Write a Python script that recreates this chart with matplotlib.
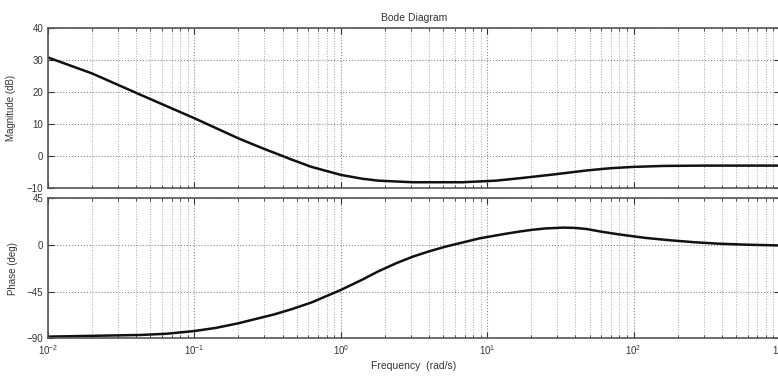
import numpy as np
import matplotlib.pyplot as plt
from matplotlib.ticker import LogLocator, FixedLocator

# values
mag_freq = [0.01, 0.02, 0.043, 0.1, 0.2, 0.3, 0.39, 0.46, 0.63, 1.0, 1.4,
            1.8, 3.1, 6.8, 11.5, 17, 28, 48, 70, 100, 160, 300, 1000]
mag_db = [30.8, 25.8, 19.1, 11.8, 5.5, 2.2, 0.2, -1.1, -3.4, -5.9, -7.1,
          -7.7, -8.2, -8.2, -7.7, -6.9, -5.8, -4.5, -3.8, -3.4, -3.1, -3.0,
          -3.0]

phase_freq = [0.01, 0.043, 0.065, 0.1, 0.14, 0.2, 0.35, 0.46, 0.63, 1.0,
              1.4, 1.8, 2.4, 3.1, 4.0, 5.2, 8.9, 13, 16.6, 20, 25, 33, 40,
              48, 60, 79, 120, 174, 260, 380, 600, 1000]
phase_deg = [-88.4, -86.8, -85.6, -83.0, -80.0, -75.5, -67.0, -62.0, -55.5,
             -43.4, -33.5, -25.5, -17.5, -11.3, -6.2, -1.6, 6.4, 10.5, 12.9,
             14.5, 15.9, 16.7, 16.4, 15.3, 12.8, 10.2, 6.8, 4.6, 2.6, 1.2,
             0.2, -0.5]

mag_ticks = [-10, 0, 10, 20, 30, 40]
phase_ticks = [-90, -45, 0, 45]
decades = [1e-2, 1e-1, 1e0, 1e1, 1e2, 1e3]

plt.rcParams['font.family'] = ['Liberation Sans', 'DejaVu Sans']
plt.rcParams['mathtext.default'] = 'regular'

txt = '#333333'
fig = plt.figure(figsize=(7.78, 3.77), dpi=100)
ax1 = fig.add_axes([0.0617, 0.5013, 0.941, 0.4244])
ax2 = fig.add_axes([0.0617, 0.1027, 0.941, 0.3714])


def style_axis(ax):
    ax.set_xscale('log')
    ax.set_xlim(decades[0], decades[-1])
    ax.xaxis.set_major_locator(FixedLocator(decades))
    ax.xaxis.set_minor_locator(LogLocator(base=10, subs=np.arange(2, 10)))
    ax.grid(True, which='major', ls=':', color='#888888', lw=0.8)
    ax.grid(True, which='minor', ls=':', color='#aaaaaa', lw=0.7)
    ax.tick_params(which='both', direction='in', top=True, right=True,
                   colors=txt, labelsize=7)
    ax.tick_params(which='major', length=4)
    ax.tick_params(which='minor', length=2)
    for s in ax.spines.values():
        s.set_color('#555555')
        s.set_linewidth(1.2)


style_axis(ax1)
ax1.plot(mag_freq, mag_db, color='#111111', lw=1.8)
ax1.set_ylim(-10, 40)
ax1.set_yticks(mag_ticks)
ax1.set_xticklabels([])
ax1.set_ylabel('Magnitude (dB)', fontsize=7, color=txt, labelpad=8)
ax1.set_title('Bode Diagram', fontsize=7.5, color=txt, pad=5)

style_axis(ax2)
ax2.plot(phase_freq, phase_deg, color='#111111', lw=1.8)
ax2.set_ylim(-90, 45)
ax2.set_yticks(phase_ticks)
ax2.set_xticklabels(['$10^{-2}$', '$10^{-1}$', '$10^{0}$', '$10^{1}$',
                     '$10^{2}$', '$10^{3}$'])
ax2.set_ylabel('Phase (deg)', fontsize=7, color=txt, labelpad=6)
ax2.set_xlabel('Frequency  (rad/s)', fontsize=7.5, color=txt, labelpad=3)

fig.align_ylabels([ax1, ax2])
fig.savefig('out.png', dpi=100)
